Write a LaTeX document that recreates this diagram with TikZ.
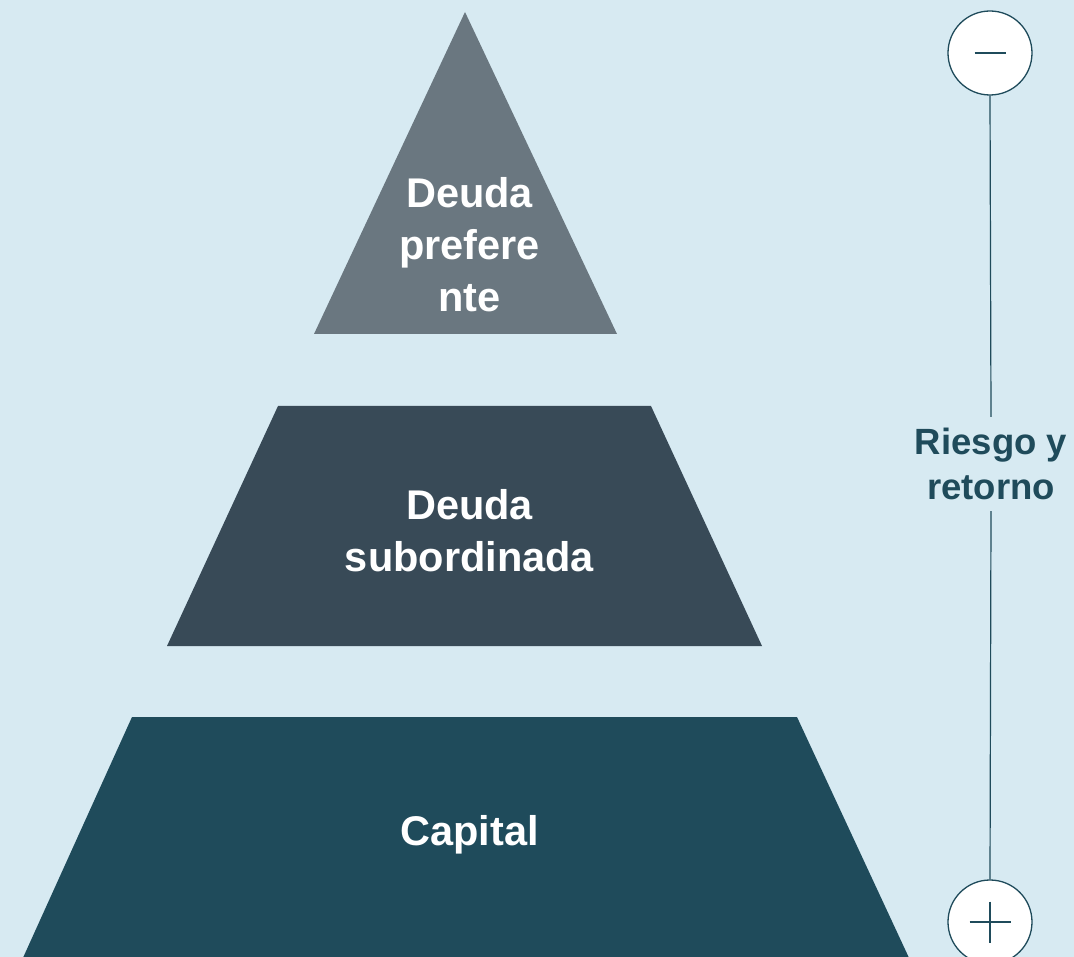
\documentclass[tikz,border=0pt]{standalone}
\usetikzlibrary{calc}
\usepackage{fontspec}
\setmainfont{Liberation Sans}
\definecolor{bg}{HTML}{D7EAF2}
\definecolor{layerA}{HTML}{6A7780}
\definecolor{layerB}{HTML}{384A57}
\definecolor{layerC}{HTML}{1F4B5B}
\definecolor{ink}{HTML}{1F4B5B}
\tikzset{
  layer/.style={draw=none},
  layertext/.style={text=white, font=\bfseries\fontsize{41.5}{52}\selectfont, align=center, inner sep=0pt},
  sidetext/.style={text=ink, font=\bfseries\fontsize{36.5}{45}\selectfont, align=center, inner sep=0pt},
  endcircle/.style={circle, draw=ink, line width=1.3pt, fill=white, minimum size=84pt, inner sep=0pt},
  axisline/.style={draw=ink, line width=1.2pt},
  signline/.style={draw=ink, line width=2pt}
}
\begin{document}
\begin{tikzpicture}[x=1pt,y=-1pt]
\fill[bg] (0,0) rectangle (1074,957);
\useasboundingbox (0,0) rectangle (1074,957);
% layers
\fill[layerA, layer] (465,12) -- (617,334) -- (314,334) -- cycle;
\fill[layerB, layer] (278,406) -- (651,406) -- (762,646) -- (167,646) -- cycle;
\fill[layerC, layer] (132,717) -- (797,717) -- (910,960) -- (22,960) -- cycle;
\node[layertext] (top) at (469.5,245) {Deuda\\prefere\\nte};
\node[layertext] (mid) at (469.5,531) {Deuda\\subordinada};
\node[layertext, anchor=base] (base) at (469.5,845) {Capital};
% axis
\node[endcircle] (minus) at (990,53) {};
\node[endcircle] (plus) at (990,922) {};
\node[sidetext, minimum height=94pt] (risk) at (991,464) {Riesgo y\\retorno};
\draw[axisline] (minus.south) -- (risk.north);
\draw[axisline] (risk.south) -- (plus.north);
\draw[signline] ($(minus.center)+(-15.5,0)$) -- ($(minus.center)+(15.5,0)$);
\draw[signline] ($(plus.center)+(-20.5,0)$) -- ($(plus.center)+(20.5,0)$);
\draw[signline] ($(plus.center)+(0,-20.5)$) -- ($(plus.center)+(0,20.5)$);
\end{tikzpicture}
\end{document}
